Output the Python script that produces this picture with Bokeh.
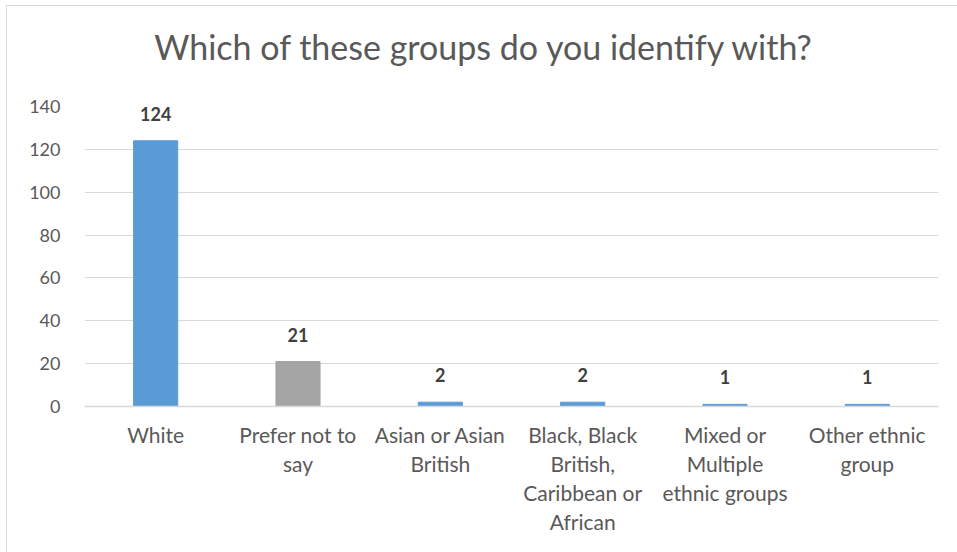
from bokeh.plotting import figure
from bokeh.models import ColumnDataSource, LabelSet, Label, Range1d, FactorRange
from bokeh.core.properties import value
from bokeh.embed import file_html
from bokeh.resources import INLINE

# Survey responses by ethnic group
categories = [
    "White",
    "Prefer not to\nsay",
    "Asian or Asian\nBritish",
    "Black, Black\nBritish,\nCaribbean or\nAfrican",
    "Mixed or\nMultiple\nethnic groups",
    "Other ethnic\ngroup",
]
counts = [124, 21, 2, 2, 1, 1]
bar_colors = ["#5B9BD5", "#A5A5A5", "#5B9BD5", "#5B9BD5", "#5B9BD5", "#5B9BD5"]
y_ticks = [0, 20, 40, 60, 80, 100, 120, 140]
title_text = "Which of these groups do you identify with?"

FONT = "Lato"

source = ColumnDataSource(dict(
    cat=categories,
    count=counts,
    color=bar_colors,
    label=[str(c) for c in counts],
))

p = figure(
    x_range=FactorRange(*categories, range_padding=0),
    y_range=Range1d(0, 140),
    width=951, height=547,
    output_backend="svg",
    toolbar_location=None,
    min_border_left=77, min_border_right=20,
    min_border_top=100, min_border_bottom=147,
    margin=(5, 0, 0, 6),
    styles={"border-top": "1px solid #d9d9d9", "border-left": "1px solid #d9d9d9"},
)

p.vbar(x="cat", top="count", width=0.31, color="color", source=source)

labels = LabelSet(
    x="cat", y="count", text="label", source=source,
    text_align="center", text_baseline="bottom", y_offset=20,
    text_font=value(FONT), text_font_style="bold", text_font_size="18px",
    text_color="#404040",
)
p.add_layout(labels)

# Chart heading, placed in the band above the plotting area
heading = Label(
    x=476, y=39, x_units="canvas", y_units="canvas",
    text=title_text, text_align="center", text_baseline="alphabetic",
    text_font=FONT, text_font_size="34px", text_color="#595959",
)
p.add_layout(heading, "above")

p.outline_line_color = None
p.xgrid.grid_line_color = None
p.ygrid.grid_line_color = "#d9d9d9"
p.ygrid.ticker = y_ticks

p.yaxis.ticker = y_ticks
p.yaxis.axis_line_color = None
p.yaxis.major_tick_line_color = None
p.yaxis.minor_tick_line_color = None
p.yaxis.major_label_text_font = FONT
p.yaxis.major_label_text_font_size = "18px"
p.yaxis.major_label_text_color = "#595959"
p.yaxis.major_label_standoff = 18

p.xaxis.axis_line_color = "#d9d9d9"
p.xaxis.axis_line_width = 1.5
p.xaxis.major_tick_line_color = None
p.xaxis.minor_tick_line_color = None
p.xaxis.major_label_text_font = FONT
p.xaxis.major_label_text_font_size = "21px"
p.xaxis.major_label_text_color = "#595959"
p.xaxis.major_label_text_line_height = 1.17
p.xaxis.major_label_standoff = 9

open("out.html", "w").write(file_html(p, INLINE))
